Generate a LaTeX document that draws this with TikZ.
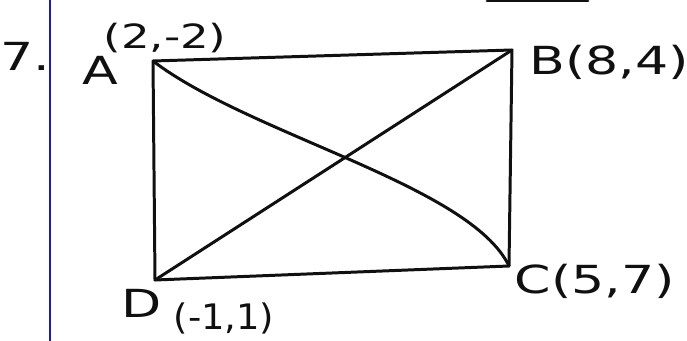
\documentclass[tikz,border=0pt]{standalone}
\usepackage{fontspec}
\setmainfont{Liberation Sans}
\newfontfamily\hand[FakeStretch=1.35]{DejaVu Sans}
\newfontfamily\handn[FakeStretch=1.05]{DejaVu Sans}
\usetikzlibrary{positioning}
\definecolor{ink}{HTML}{101010}
\definecolor{margin}{HTML}{1A1AB4}

\begin{document}
\begin{tikzpicture}[x=0.02cm, y=-0.02cm,
  edge/.style={draw=ink, line width=1.7pt, line cap=round, line join=round},
  lab/.style={text=ink, inner sep=0, font=\hand\fontsize{22}{24}\selectfont},
  small/.style={lab, font=\hand\fontsize{19}{20}\selectfont}]
\useasboundingbox (0,0) rectangle (687,341);
\draw[margin, line width=1.2pt] (50,0) -- (50,341);
\draw[edge] (487,1) -- (588,1);
\node[lab] (num) at (25,56) {7.};
% corners
\foreach \n/\x/\y in {A/153/61, B/512/50, C/509/266, D/155/280}
  \coordinate (\n) at (\x,\y);
\node[lab] (la) at (100,70) {A};
\node[small] (pa) at (165,38) {(2,-2)};
\node[lab] (lb) at (609,62) {B(8,4)};
\node[lab] (lc) at (595,281) {C(5,7)};
\node[lab] (ld) at (142,303) {D};
\node[small, font=\handn\fontsize{20}{22}\selectfont] (pd) at (224,318) {(-1,1)};
\draw[edge] (A) -- (B) -- (C) -- (D) -- cycle;
\draw[edge] (A) .. controls (250,135) and (470,185) .. (C);
\draw[edge] (D) -- (B);
\end{tikzpicture}
\end{document}
